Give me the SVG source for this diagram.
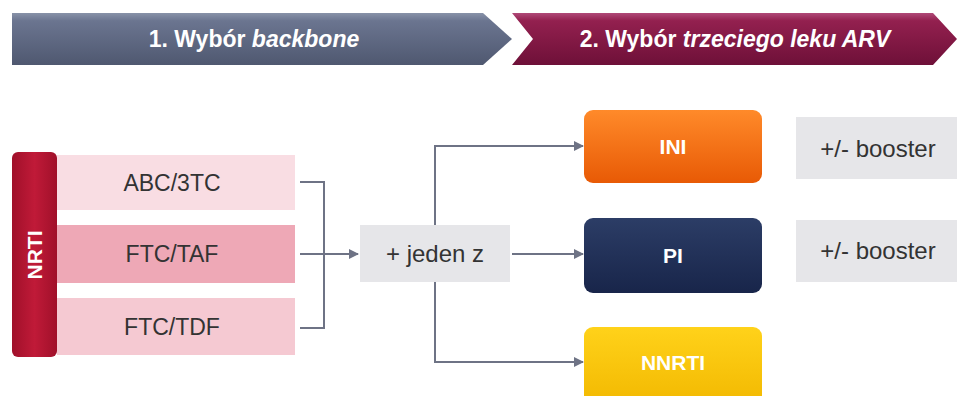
<svg xmlns="http://www.w3.org/2000/svg" width="957" height="396" viewBox="0 0 957 396">
<defs>
<linearGradient id="gBan1" x1="0" y1="0" x2="0" y2="1"><stop offset="0" stop-color="#8892a8"/><stop offset="0.15" stop-color="#6b7590"/><stop offset="1" stop-color="#4f5870"/></linearGradient>
<linearGradient id="gBan2" x1="0" y1="0" x2="0" y2="1"><stop offset="0" stop-color="#b04a78"/><stop offset="0.15" stop-color="#93204f"/><stop offset="1" stop-color="#6e1038"/></linearGradient>
<linearGradient id="gNrti" x1="0" y1="0" x2="1" y2="0"><stop offset="0" stop-color="#a0102a"/><stop offset="0.5" stop-color="#c01a38"/><stop offset="1" stop-color="#a0102a"/></linearGradient>
<linearGradient id="gIni" x1="0" y1="0" x2="0" y2="1"><stop offset="0" stop-color="#ff8a2a"/><stop offset="1" stop-color="#e85a05"/></linearGradient>
<linearGradient id="gPi" x1="0" y1="0" x2="0" y2="1"><stop offset="0" stop-color="#2c3d66"/><stop offset="1" stop-color="#18254a"/></linearGradient>
<linearGradient id="gNn" x1="0" y1="0" x2="0" y2="1"><stop offset="0" stop-color="#ffd21a"/><stop offset="1" stop-color="#f2b800"/></linearGradient>
<marker id="arr" markerWidth="10" markerHeight="10" refX="9" refY="5" orient="auto" markerUnits="userSpaceOnUse"><path d="M0,0 L10,5 L0,10 z" fill="#6e7385"/></marker>
</defs>
<style>
.ban{font-family:"Liberation Sans",Arial,sans-serif;font-size:23px;font-weight:bold;fill:#fff}
.row{font-family:"Liberation Sans",Arial,sans-serif;font-size:23px;fill:#333;text-anchor:middle}
.lbl{font-family:"Liberation Sans",Arial,sans-serif;font-size:24px;fill:#333;text-anchor:middle}
.box{font-family:"Liberation Sans",Arial,sans-serif;font-size:21px;font-weight:bold;fill:#fff;text-anchor:middle}
.con{fill:none;stroke:#6e7385;stroke-width:2}
</style>
<rect width="957" height="396" fill="#fff"/>
<g id="banner1">
<polygon points="12,13 483,13 512,39 483,65 12,65" fill="url(#gBan1)"/>
<text class="ban" x="254" y="47" text-anchor="middle">1. Wybór <tspan font-style="italic">backbone</tspan></text>
</g>
<g id="banner2">
<polygon points="512,13 933,13 957,39 933,65 512,65 533,39" fill="url(#gBan2)"/>
<text class="ban" x="735" y="47" text-anchor="middle">2. Wybór <tspan font-style="italic">trzeciego leku ARV</tspan></text>
</g>
<g id="nrti">
<rect x="12" y="152" width="45" height="205" rx="6" fill="url(#gNrti)"/>
<text class="box" transform="translate(42,255) rotate(-90)">NRTI</text>
</g>
<g id="abc3tc">
<rect x="57" y="155" width="238" height="55" fill="#f9dde3"/>
<text class="row" x="172" y="191">ABC/3TC</text>
</g>
<g id="ftctaf">
<rect x="57" y="225" width="238" height="58" fill="#eea8b6"/>
<text class="row" x="172" y="262">FTC/TAF</text>
</g>
<g id="ftctdf">
<rect x="57" y="298" width="238" height="57" fill="#f5c9d2"/>
<text class="row" x="172" y="335">FTC/TDF</text>
</g>
<g id="jeden">
<rect x="360" y="225" width="150" height="57" fill="#e6e6e9"/>
<text class="lbl" x="435" y="262">+ jeden z</text>
</g>
<g id="ini">
<rect x="584" y="110" width="178" height="73" rx="9" fill="url(#gIni)"/>
<text class="box" x="673" y="154">INI</text>
</g>
<g id="pi">
<rect x="584" y="218" width="178" height="75" rx="9" fill="url(#gPi)"/>
<text class="box" x="673" y="263">PI</text>
</g>
<g id="nnrti">
<rect x="584" y="327" width="178" height="80" rx="9" fill="url(#gNn)"/>
<text class="box" x="673" y="370">NNRTI</text>
</g>
<g id="booster1">
<rect x="796" y="117" width="161" height="62" fill="#e6e6e9"/>
<text class="lbl" x="878" y="157" font-size="25">+/- booster</text>
</g>
<g id="booster2">
<rect x="796" y="220" width="161" height="62" fill="#e6e6e9"/>
<text class="lbl" x="878" y="259" font-size="25">+/- booster</text>
</g>
<g id="connectors">
<path class="con" d="M300,182 H324 V328 H300"/>
<path class="con" d="M300,254 H358" marker-end="url(#arr)"/>
<path class="con" d="M435,225 V146 H583" marker-end="url(#arr)"/>
<path class="con" d="M512,254 H583" marker-end="url(#arr)"/>
<path class="con" d="M435,282 V362 H583" marker-end="url(#arr)"/>
</g>
</svg>
